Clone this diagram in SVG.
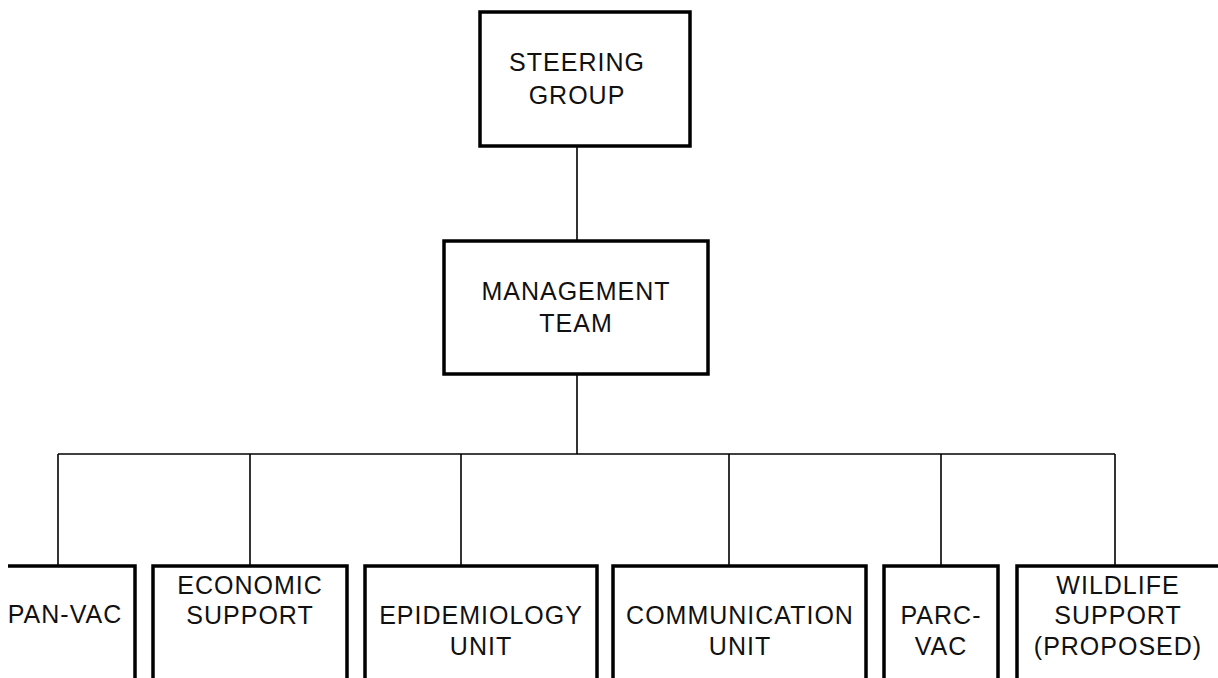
<svg xmlns="http://www.w3.org/2000/svg" width="1218" height="678" viewBox="0 0 1218 678">
<style>
.box{fill:#fff;stroke:#000;stroke-width:3.5}
.open{fill:none;stroke:#000;stroke-width:3.5}
.conn{fill:none;stroke:#000;stroke-width:1.6}
text{font-family:"Liberation Sans",Arial,sans-serif;font-size:25px;letter-spacing:1px;fill:#111;text-anchor:middle}
</style>
<rect width="1218" height="678" fill="#fff"/>
<g id="connectors">
<line class="conn" x1="577" y1="146" x2="577" y2="241"/>
<line class="conn" x1="577" y1="374" x2="577" y2="454"/>
<line class="conn" x1="58" y1="454" x2="1115" y2="454"/>
<line class="conn" x1="58" y1="454" x2="58" y2="566"/>
<line class="conn" x1="250" y1="454" x2="250" y2="566"/>
<line class="conn" x1="461" y1="454" x2="461" y2="566"/>
<line class="conn" x1="729" y1="454" x2="729" y2="566"/>
<line class="conn" x1="941" y1="454" x2="941" y2="566"/>
<line class="conn" x1="1115" y1="454" x2="1115" y2="566"/>
</g>
<g id="steering">
<rect class="box" x="480" y="12" width="210" height="134"/>
<text x="577" y="71">STEERING</text>
<text x="577" y="104">GROUP</text>
</g>
<g id="management">
<rect class="box" x="444" y="241" width="264" height="133"/>
<text x="576" y="300">MANAGEMENT</text>
<text x="576" y="332">TEAM</text>
</g>
<g id="panvac">
<path class="open" d="M8,566 H135 V682"/>
<text x="65" y="623">PAN-VAC</text>
</g>
<g id="economic">
<path class="open" d="M153,682 V566 H347 V682"/>
<text x="250" y="594">ECONOMIC</text>
<text x="250" y="624">SUPPORT</text>
</g>
<g id="epidemiology">
<path class="open" d="M365,682 V566 H597 V682"/>
<text x="481" y="624">EPIDEMIOLOGY</text>
<text x="481" y="655">UNIT</text>
</g>
<g id="communication">
<path class="open" d="M613,682 V566 H866 V682"/>
<text x="740" y="624">COMMUNICATION</text>
<text x="740" y="655">UNIT</text>
</g>
<g id="parcvac">
<path class="open" d="M884,682 V566 H998 V682"/>
<text x="941" y="624">PARC-</text>
<text x="941" y="655">VAC</text>
</g>
<g id="wildlife">
<path class="open" d="M1017,682 V566 H1220"/>
<text x="1118" y="594">WILDLIFE</text>
<text x="1118" y="624">SUPPORT</text>
<text x="1118" y="655">(PROPOSED)</text>
</g>
</svg>
